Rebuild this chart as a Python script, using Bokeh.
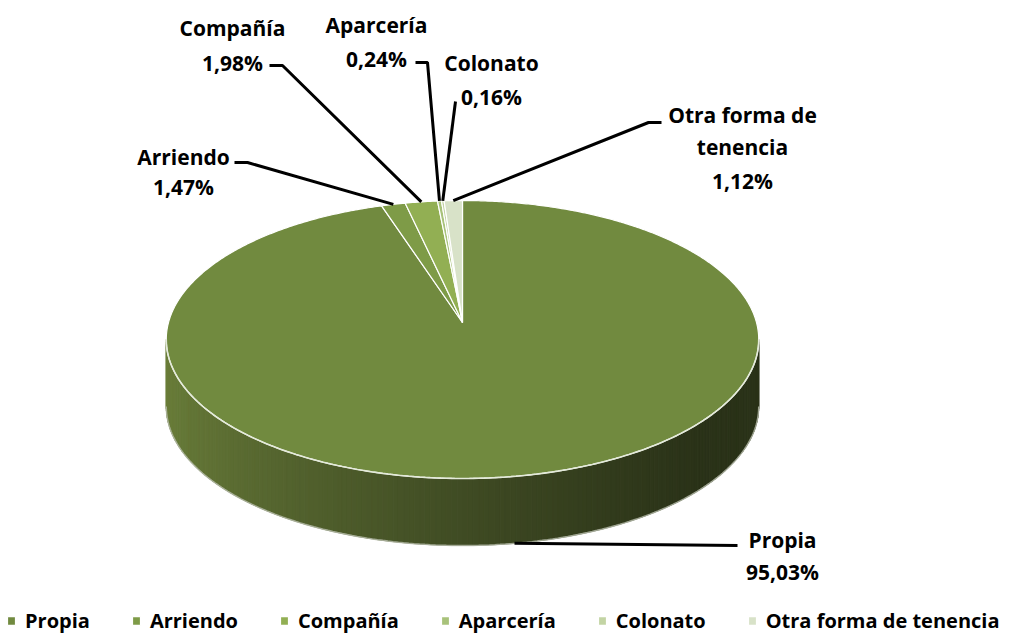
import numpy as np
from bokeh.plotting import figure
from bokeh.models import ColumnDataSource, Range1d, Legend, LegendItem
from bokeh.core.properties import value
from bokeh.embed import file_html
from bokeh.resources import INLINE

# ---- data -------------------------------------------------------------
categories = ["Propia", "Arriendo", "Compañía", "Aparcería", "Colonato",
              "Otra forma de tenencia"]
shares = [95.03, 1.47, 1.98, 0.24, 0.16, 1.12]          # percent
label_names = [["Propia"], ["Arriendo"], ["Compañía"], ["Aparcería"],
               ["Colonato"], ["Otra forma de", "tenencia"]]

# ---- styles / layout -------------------------------------------------
colors = ["#718A3F", "#7E9B47", "#92AF53", "#A8C27A", "#C3D4A4", "#D8E2C8"]
FONT_NAME = "Open Sans"
FONT = value(FONT_NAME)
W, H = 1020, 634

# pie in screen pixels (y grows downward), mild perspective tilt
CX, CY = 462.0, 322.0
RX, RY, PERSP = 294.0, 136.9, 0.1224
DEPTH = 67.0

# label text centre x, line centres y, leader start points
label_layout = [
    dict(x=782, ys=[539, 571], path=[(737, 545)], bottom=True),
    dict(x=183, ys=[156, 186], path=[(234, 162), (247, 162)]),
    dict(x=232, ys=[27, 62], path=[(269, 65), (282, 65)]),
    dict(x=376, ys=[24, 58], path=[(415, 62), (427, 62)]),
    dict(x=491, ys=[62, 96], path=[(455, 101)]),
    dict(x=742, ys=[114, 146, 180], path=[(661, 122), (648, 122)]),
]


def project(t):
    u, v = np.cos(t), np.sin(t)
    f = 1.0 / (1.0 + PERSP * v)
    return CX + RX * u * f, CY - RY * v * f


def pct(v):
    return f"{v:.2f}".replace(".", ",") + "%"


p = figure(width=W, height=H, x_range=Range1d(0, W), y_range=Range1d(H, 0),
           output_backend="svg", toolbar_location=None, min_border=0)
p.axis.visible = False
p.grid.visible = False
p.outline_line_color = None
p.background_fill_color = "white"
p.border_fill_color = "white"

# ---- slice angles (start at 12 o'clock, clockwise) -------------------
starts, ends = [], []
t = np.pi / 2
for s in shares:
    starts.append(t)
    t -= s / 100.0 * 2 * np.pi
    ends.append(t)

# ---- side wall of the front half (shaded strips) ---------------------
t0 = np.pi + np.arcsin(PERSP)
t1 = 2 * np.pi - np.arcsin(PERSP)
ts = np.linspace(t0, t1, 181)
left_rgb = np.array([0x6A, 0x7E, 0x3A], float)
right_rgb = np.array([0x2A, 0x32, 0x18], float)
xmin, xmax = project(t0)[0], project(t1)[0]
sx, sy, sc = [], [], []
for a, b in zip(ts[:-1], ts[1:]):
    xa, ya = project(a)
    xb, yb = project(b)
    fr = np.clip(((xa + xb) / 2 - xmin) / (xmax - 60 - xmin), 0, 1) ** 0.7
    rgb = left_rgb + (right_rgb - left_rgb) * fr
    sx.append([xa, xb, xb, xa])
    sy.append([ya, yb, yb + DEPTH, ya + DEPTH])
    sc.append("#%02x%02x%02x" % tuple(int(round(c)) for c in rgb))
p.patches(sx, sy, fill_color=sc, line_color=sc, line_width=1)

# soft edge along the bottom of the wall
bx, by = project(ts)
p.line(bx, by + DEPTH, line_color="#B9BEAE", line_width=1.5, line_alpha=0.8)

# ---- top face slices --------------------------------------------------
xs, ys = [], []
for a, b in zip(starts, ends):
    n = max(4, int(abs(a - b) / (2 * np.pi) * 720))
    arc = np.linspace(a, b, n)
    ax_, ay_ = project(arc)
    xs.append([CX] + list(ax_))
    ys.append([CY] + list(ay_))
src = ColumnDataSource(dict(xs=xs, ys=ys, color=colors, name=categories))
slices = p.patches("xs", "ys", source=src, fill_color="color",
                   line_color="white", line_width=1.2)

# light rim between top face and wall
fx, fy = project(ts)
p.line(fx, fy, line_color="#E4EADA", line_width=1.6)

# ---- leader lines and labels -----------------------------------------
lx, ly = [], []
tx, ty, tt = [], [], []
for i, lay in enumerate(label_layout):
    mid = (starts[i] + ends[i]) / 2
    axp, ayp = project(mid)
    if lay.get("bottom"):
        ayp += DEPTH
    pts = list(lay["path"]) + [(axp, ayp)]
    lx.append([q[0] for q in pts])
    ly.append([q[1] for q in pts])
    lines = label_names[i] + [pct(shares[i])]
    for line, yy in zip(lines, lay["ys"]):
        tx.append(lay["x"])
        ty.append(yy)
        tt.append(line)
p.multi_line(lx, ly, line_color="black", line_width=3)
p.text(tx, ty, text=tt, text_font=FONT, text_font_style="bold",
       text_font_size="21px", text_color="black", text_align="center",
       text_baseline="middle")

# ---- legend ------------------------------------------------------------
items = [LegendItem(label=c, renderers=[slices], index=i)
         for i, c in enumerate(categories)]
legend = Legend(items=items, orientation="horizontal", location=(6, 0),
                glyph_width=10, glyph_height=11, label_standoff=9, spacing=41,
                padding=2, margin=0, border_line_color=None,
                background_fill_alpha=0, label_text_font=FONT_NAME,
                label_text_font_style="bold", label_text_font_size="20px",
                label_text_color="black", label_height=22)
p.add_layout(legend)

open("out.html", "w").write(file_html(p, INLINE))
